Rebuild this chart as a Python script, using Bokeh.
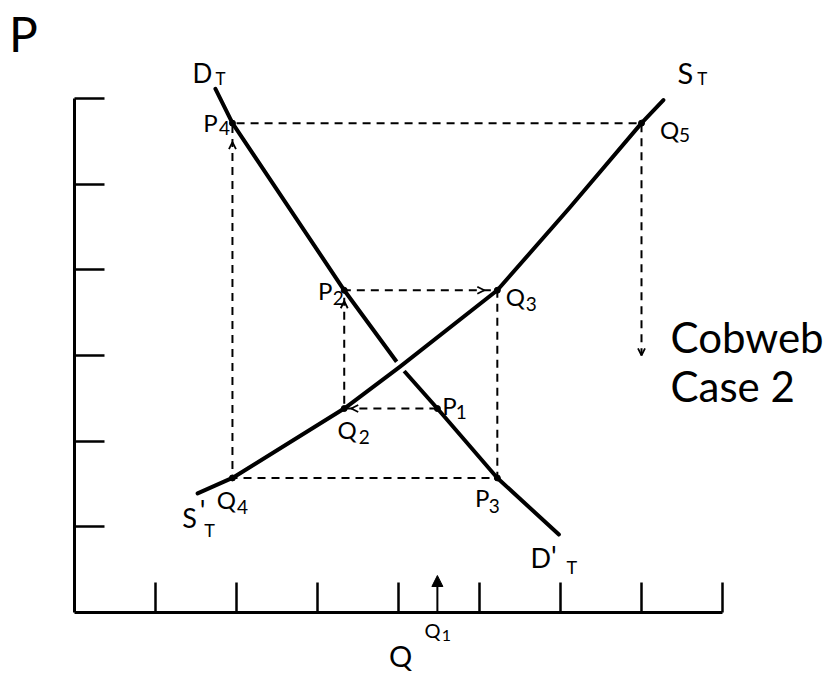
import math
from bokeh.plotting import figure
from bokeh.models import Range1d, FixedTicker, Label, Arrow, OpenHead, NormalHead
from bokeh.embed import file_html
from bokeh.resources import INLINE

# ---------------- data (units = tick intervals) ----------------
q_ticks = [1, 2, 3, 4, 5, 6, 7, 8]
p_ticks = [1, 2, 3, 4, 5, 6]

# demand curve D_T ... D'_T
demand_q = [1.74, 1.95, 3.33, 4.02, 4.48, 5.22, 5.98]
demand_p = [6.11, 5.71, 3.76, 2.87, 2.38, 1.57, 0.91]

# supply curve S'_T ... S_T
supply_q = [1.52, 1.95, 3.33, 4.02, 5.22, 6.11, 7.00, 7.27]
supply_p = [1.39, 1.57, 2.38, 2.87, 3.76, 4.72, 5.71, 5.98]

# cobweb path: P1 -> Q2 -> P2 -> Q3 -> P3 -> Q4 -> P4 -> Q5
cob_names = ["P1", "Q2", "P2", "Q3", "P3", "Q4", "P4", "Q5"]
cob_q = [4.48, 3.33, 3.33, 5.22, 5.22, 1.95, 1.95, 7.00]
cob_p = [2.38, 2.38, 3.76, 3.76, 1.57, 1.57, 5.71, 5.71]
q5_drop_p = 3.00          # the last dashed arrow from Q5 ends here
q1 = 4.48                 # Q1 marked on the quantity axis
crossing_index = 3        # index of the D/S crossing in the supply list

# ---------------- layout ----------------
W, H = 828, 675
ORIGIN_X, ORIGIN_Y = 74, 612      # pixel position of the axes' origin
PX_X, PX_Y = 81.0, 85.7           # pixels per tick interval
FONT = "Lato"

p = figure(width=W, height=H, output_backend="svg", toolbar_location=None,
           x_range=Range1d(-ORIGIN_X / PX_X, (W - ORIGIN_X) / PX_X),
           y_range=Range1d((ORIGIN_Y - H) / PX_Y, ORIGIN_Y / PX_Y),
           min_border=0, min_border_left=0, min_border_bottom=0,
           min_border_right=0, min_border_top=0)
p.outline_line_color = None
p.xgrid.visible = False
p.ygrid.visible = False
p.background_fill_color = "white"
p.border_fill_color = "white"

p.xaxis.ticker = FixedTicker(ticks=q_ticks)
p.yaxis.ticker = FixedTicker(ticks=p_ticks)
p.xaxis.major_label_overrides = {t: "" for t in q_ticks}
p.yaxis.major_label_overrides = {t: "" for t in p_ticks}
for ax in (p.xaxis, p.yaxis):
    ax.fixed_location = 0
    ax.major_tick_in = 30
    ax.major_tick_out = 0
    ax.minor_tick_line_color = None
    ax.axis_line_width = 3
    ax.axis_line_color = "black"
    ax.major_tick_line_width = 2.5
    ax.major_tick_line_color = "black"
    ax.major_label_standoff = 0
p.xaxis.bounds = (0, q_ticks[-1])
p.yaxis.bounds = (0, p_ticks[-1])

# demand curve
p.line(demand_q, demand_p, line_color="black", line_width=4, line_join="round", line_cap="round")

# white gap in D where S passes over it
cx, cy = supply_q[crossing_index], supply_p[crossing_index]
dxp = (supply_q[crossing_index + 1] - supply_q[crossing_index - 1]) * PX_X
dyp = (supply_p[crossing_index + 1] - supply_p[crossing_index - 1]) * PX_Y
L = math.hypot(dxp, dyp)
hl = 8.0
p.line([cx - hl * dxp / L / PX_X, cx + hl * dxp / L / PX_X],
       [cy - hl * dyp / L / PX_Y, cy + hl * dyp / L / PX_Y],
       line_color="white", line_width=12)

# supply curve
p.line(supply_q, supply_p, line_color="black", line_width=4, line_join="round", line_cap="round")

# cobweb dashed path
p.line(cob_q + [cob_q[-1]], cob_p + [q5_drop_p], line_color="black", line_width=2, line_dash="8 6")
p.scatter(cob_q, cob_p, size=6, color="black")

pts = dict(zip(cob_names, zip(cob_q, cob_p)))

def head(x0, y0, x1, y1, size=7):
    p.add_layout(Arrow(x_start=x0, y_start=y0, x_end=x1, y_end=y1, line_color=None,
                       end=OpenHead(size=size, line_color="black", line_width=1.8)))

# arrowheads along the cobweb
q2q, q2p = pts["Q2"]; head(q2q + 20 / PX_X, q2p, q2q + 7 / PX_X, q2p)
p2q, p2p = pts["P2"]; head(p2q, p2p - 24 / PX_Y, p2q, p2p - 11 / PX_Y)
q3q, q3p = pts["Q3"]; head(q3q - 26 / PX_X, q3p, q3q - 13 / PX_X, q3p)
p4q, p4p = pts["P4"]; head(p4q, p4p - 33 / PX_Y, p4q, p4p - 19 / PX_Y)
q5q, q5p = pts["Q5"]; head(q5q, q5_drop_p + 12 / PX_Y, q5q, q5_drop_p)

# Q1 arrow on the axis
p.add_layout(Arrow(x_start=q1, y_start=0, x_end=q1, y_end=37 / PX_Y, line_color="black", line_width=2,
                   end=NormalHead(size=11, fill_color="black", line_color="black", line_width=1)))

def put(text, ax, ay, dx, dy, size, align="center", baseline="middle"):
    p.add_layout(Label(x=ax + dx / PX_X, y=ay - dy / PX_Y, text=text, text_font=FONT,
                       text_font_size=f"{size}px", text_align=align, text_baseline=baseline,
                       text_color="black"))

# point labels: (letter, dx, dy), (subscript, dx, dy)
point_labels = {
    "P4": (("P", -22, -1), ("4", -8, 5)),
    "P2": (("P", -19, 0), ("2", -6, 8)),
    "Q3": (("Q", 18, 6), ("3", 34, 14)),
    "P1": (("P", 12, -3), ("1", 24, 3)),
    "Q2": (("Q", 3, 21), ("2", 20, 28)),
    "Q4": (("Q", -6, 22), ("4", 10, 29)),
    "P3": (("P", -15, 20), ("3", -3, 28)),
    "Q5": (("Q", 28, 6), ("5", 43, 12)),
}
for name, ((t1, x1, y1), (t2, x2, y2)) in point_labels.items():
    a, b = pts[name]
    put(t1, a, b, x1, y1, 24)
    put(t2, a, b, x2, y2, 19)

# curve labels
put("D", demand_q[0], demand_p[0], -13, -16, 26)
put("T", demand_q[0], demand_p[0], 5, -10, 17)
put("S", supply_q[-1], supply_p[-1], 22, -28, 29)
put("T", supply_q[-1], supply_p[-1], 39, -22, 17)
put("S", supply_q[0], supply_p[0], -8, 24, 27)
put("'", supply_q[0], supply_p[0], 5, 17, 28)
put("T", supply_q[0], supply_p[0], 12, 37, 18)
put("D", demand_q[-1], demand_p[-1], -18, 23, 27)
put("'", demand_q[-1], demand_p[-1], -5, 21, 28)
put("T", demand_q[-1], demand_p[-1], 13, 32, 18)

# Q1 label
put("Q", q1, 0, -5, 17, 20)
put("1", q1, 0, 9, 23, 16)

# axis letters
put("Q", 0, 0, 326, 43, 29)
put("P", 0, p_ticks[-1], -51, -65, 48)

# title text
put("Cobweb", q5q, q5_drop_p, 29, -18, 42, align="left", baseline="alphabetic")
put("Case 2", q5q, q5_drop_p, 29, 31, 42, align="left", baseline="alphabetic")

open("out.html", "w").write(file_html(p, INLINE))
